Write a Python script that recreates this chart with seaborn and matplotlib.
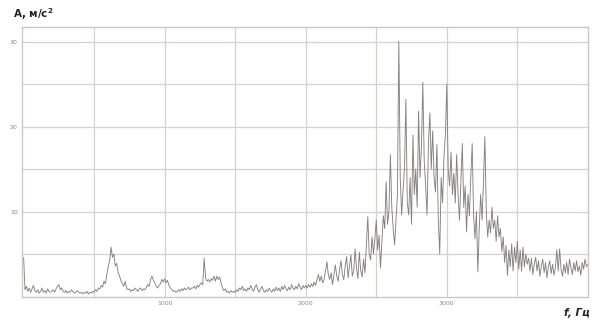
import numpy as np
import pandas as pd
import matplotlib
matplotlib.use("Agg")
import matplotlib.pyplot as plt
import seaborn as sns

# Vibration acceleration spectrum, 10 Hz resolution, 0..4000 Hz
freq_step_hz = 10
amplitude = [
    # 0-190 Hz
    4.6, 0.8, 1.2, 0.6, 1.0, 0.5, 0.9, 1.3, 0.7, 0.5, 0.8, 0.4, 0.6, 1.0, 0.5, 0.7, 0.4, 0.9, 0.6, 0.5,
    # 200-390 Hz
    0.6, 0.8, 0.5, 0.9, 1.2, 1.4, 0.8, 1.0, 0.6, 0.5, 0.7, 0.4, 0.6, 0.5, 0.8, 0.6, 0.4, 0.5, 0.7, 0.5,
    # 400-590 Hz
    0.4, 0.5, 0.3, 0.5, 0.4, 0.6, 0.3, 0.5, 0.4, 0.6, 0.5, 0.8, 0.6, 1.0, 0.9, 1.3, 1.1, 1.8, 1.5, 2.6,
    # 600-790 Hz
    3.5, 4.2, 5.8, 4.6, 5.0, 3.6, 3.9, 2.8, 2.4, 1.9, 1.5, 1.2, 1.8, 1.0, 0.8, 0.9, 0.6, 0.8, 0.7, 1.0,
    # 800-990 Hz
    0.8, 0.6, 0.9, 1.0, 0.7, 0.9, 0.8, 1.1, 1.4, 1.2, 2.0, 2.4, 1.9, 1.6, 1.2, 1.0, 1.3, 1.5, 2.0, 1.7,
    # 1000-1190 Hz
    2.1, 1.6, 1.9, 1.3, 1.0, 0.8, 0.6, 0.7, 0.5, 0.6, 0.8, 0.6, 0.9, 0.7, 1.0, 0.8, 0.9, 1.1, 0.8, 1.0,
    # 1200-1390 Hz
    1.0, 1.2, 0.9, 1.3, 1.1, 1.4, 1.6, 1.4, 4.5, 2.2, 1.8, 2.0, 1.7, 2.1, 1.9, 2.4, 1.8, 2.4, 2.0, 2.3,
    # 1400-1590 Hz
    1.6, 1.0, 0.7, 0.9, 0.5, 0.6, 0.4, 0.7, 0.5, 0.6, 0.5, 0.8, 0.6, 1.0, 0.8, 1.2, 0.7, 0.9, 0.6, 1.0,
    # 1600-1790 Hz
    0.8, 1.3, 0.9, 0.6, 1.1, 1.4, 0.8, 0.5, 0.9, 1.2, 0.7, 0.5, 0.8, 0.6, 1.0, 0.7, 0.5, 0.9, 0.6, 1.1,
    # 1800-1990 Hz
    0.7, 1.0, 0.6, 1.2, 0.8, 1.3, 0.9, 0.7, 1.1, 0.8, 1.4, 1.0, 0.8, 1.2, 0.9, 1.5, 1.1, 0.8, 1.3, 1.0,
    # 2000-2190 Hz
    1.3, 1.0, 1.4, 1.1, 1.5, 1.2, 1.7, 1.3, 2.0, 2.6, 1.8, 2.4, 1.6, 2.0, 3.0, 4.1, 2.6, 2.0, 2.8, 1.4,
    # 2200-2390 Hz
    2.6, 3.7, 2.4, 1.8, 3.2, 4.2, 2.6, 2.0, 3.6, 4.7, 2.2, 3.5, 4.9, 2.4, 3.0, 5.6, 3.3, 2.1, 5.2, 3.0,
    # 2400-2590 Hz
    2.3, 4.4, 2.8, 6.0, 9.4, 5.0, 4.3, 7.0, 5.0, 6.8, 9.0, 5.5, 7.2, 3.4, 6.5, 9.5, 8.0, 13.5, 8.5, 10.0,
    # 2600-2790 Hz
    16.7, 10.5, 8.0, 6.1, 9.0, 12.0, 30.0, 14.0, 9.6, 12.5, 15.0, 23.2, 11.0, 9.6, 14.0, 8.5, 19.0, 12.0, 15.0, 10.5,
    # 2800-2990 Hz
    21.8, 14.0, 17.5, 25.2, 16.0, 13.0, 9.6, 18.0, 21.6, 15.0, 19.5, 14.0, 12.3, 17.9, 9.0, 5.0, 14.0, 11.0, 16.5, 19.0,
    # 3000-3190 Hz
    25.0, 15.0, 13.0, 17.0, 12.0, 14.5, 11.0, 16.7, 12.0, 9.0, 13.5, 18.0, 10.5, 13.0, 7.6, 12.0, 9.5, 14.0, 18.0, 9.5,
    # 3200-3390 Hz
    6.8, 10.0, 2.9, 8.0, 12.0, 9.0, 13.5, 18.8, 10.0, 7.0, 9.0, 7.5, 10.5, 8.0, 9.0, 6.5, 9.5, 7.0, 8.0, 5.3,
    # 3400-3590 Hz
    7.0, 4.0, 6.0, 2.5, 5.5, 3.5, 6.2, 3.0, 5.8, 4.0, 6.5, 3.2, 5.5, 3.0, 5.8, 3.5, 5.0, 3.8, 4.5, 3.0,
    # 3600-3790 Hz
    4.5, 2.6, 3.8, 4.6, 3.0, 4.2, 2.4, 3.6, 4.4, 2.8, 4.0, 2.2, 3.5, 4.2, 2.7, 3.8, 2.5, 3.4, 5.5, 3.0,
    # 3800-3990 Hz
    5.6, 3.2, 2.4, 3.8, 2.8, 4.0, 2.6, 4.4, 3.4, 2.6, 4.0, 3.0, 4.2, 2.9, 3.6, 2.5, 4.0, 3.2, 4.4, 3.5,
    # 4000 Hz
    3.8,
]
freq_hz = np.arange(len(amplitude)) * freq_step_hz

x_ticks = [1000, 2000, 3000]
x_tick_labels = ["1000", "2000", "3000"]
y_ticks = [10, 20, 30]
y_tick_labels = ["10", "20", "30"]

df = pd.DataFrame({"f": freq_hz, "A": amplitude})

sns.set_style("white")
plt.rcParams["font.family"] = ["DejaVu Sans"]

fig = plt.figure(figsize=(5.92, 3.23), dpi=100)
ax = fig.add_axes([0.037, 0.082, 0.956, 0.834])

grid_col = "#d9d0ce"
for gx in np.arange(500, 4000, 500):
    ax.axvline(gx, color=grid_col, lw=0.9, zorder=0)
for gy in np.arange(5, 31, 5):
    ax.axhline(gy, color=grid_col, lw=0.9, zorder=0)

sns.lineplot(data=df, x="f", y="A", ax=ax, color="#868080", linewidth=0.65,
             estimator=None, legend=False)

ax.set_xlim(-12, 4000)
ax.set_ylim(0, 31.7)
ax.set_xticks(x_ticks)
ax.set_xticklabels(x_tick_labels)
ax.set_yticks(y_ticks)
ax.set_yticklabels(y_tick_labels)
ax.tick_params(axis="both", length=0, labelsize=4.5, colors="#8a8a8a", pad=3)
ax.set_xlabel("")
ax.set_ylabel("")

for side in ["left", "right", "top", "bottom"]:
    ax.spines[side].set_visible(True)
    ax.spines[side].set_color("#cdc6c4")
    ax.spines[side].set_linewidth(1.0)

fig.text(0.022, 0.955, "A, м/с$^{\\mathbf{2}}$", fontsize=7.5, fontweight="bold",
         color="#222222", ha="left", va="center")
fig.text(0.997, 0.03, "f, Гц", fontsize=7.5, fontweight="bold", fontstyle="italic",
         color="#222222", ha="right", va="center")

fig.savefig("out.png", dpi=100, facecolor="white")
